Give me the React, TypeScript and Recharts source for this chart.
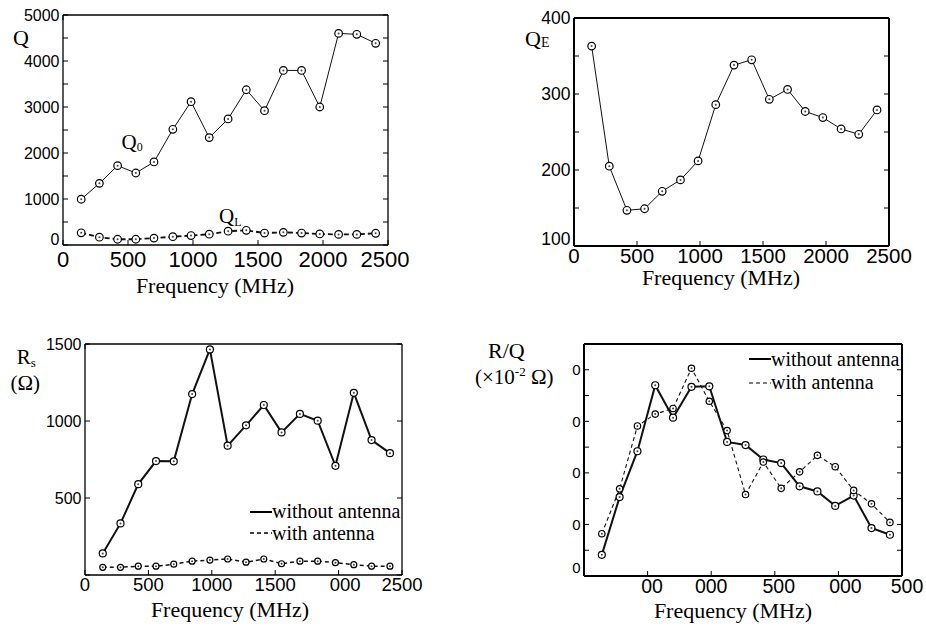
import React from 'react';
import { LineChart, Line, XAxis, YAxis, Legend } from 'recharts';

const PAGE_W = 926;
const PAGE_H = 628;
const SANS = '"Liberation Sans", Arial, Helvetica, sans-serif';
const SERIF = '"Liberation Serif", "Times New Roman", Times, serif';
const TICK_LEN = 5;

// measurement frequencies (MHz), same for all four panels
const freq = [140, 280, 420, 560, 700, 845, 985, 1125, 1270, 1410, 1550, 1695, 1835, 1975, 2120, 2260, 2405];

// top left: Q0 / QL
const q0 = [995, 1340, 1725, 1565, 1805, 2515, 3115, 2335, 2740, 3375, 2920, 3795, 3795, 3000, 4600, 4580, 4385];
const qL = [265, 170, 125, 125, 150, 180, 205, 235, 300, 320, 260, 275, 260, 240, 230, 230, 255];

// top right: QE
const qE = [363, 205, 147, 149, 172, 187, 212, 286, 338, 345, 293, 306, 277, 269, 254, 247, 279];

// bottom left: Rs (ohm)
const rsWithout = [140, 335, 590, 740, 738, 1175, 1465, 840, 972, 1104, 926, 1046, 1002, 709, 1183, 876, 791];
const rsWith = [50, 50, 57, 57, 70, 90, 97, 104, 83, 104, 73, 90, 90, 80, 67, 57, 57];

// bottom right: R/Q
const rqWithout = [4.1, 15.3, 24.2, 37.0, 30.7, 36.7, 36.8, 26.0, 25.4, 22.6, 21.9, 17.4, 16.4, 13.6, 15.6, 9.3, 8.0];
const rqWith = [8.2, 16.9, 29.1, 31.4, 32.5, 40.3, 33.9, 28.2, 15.8, 22.1, 17.0, 20.2, 23.4, 21.2, 16.6, 14.0, 10.4];

// ticks + the tick text as it is printed (some labels are clipped in the figure)
const fTicks = [0, 500, 1000, 1500, 2000, 2500];
const fLabels = ['0', '500', '1000', '1500', '2000', '2500'];
const fLabelsRs = ['0', '500', '1000', '1500', '000', '2500'];
const fLabelsRq = ['', '00', '000', '500', '000', '500'];
const qTicks = [0, 500, 1000, 1500, 2000, 2500, 3000, 3500, 4000, 4500, 5000];
const qLabels = ['0', '', '1000', '', '2000', '', '3000', '', '4000', '', '5000'];
const qeTicks = [100, 150, 200, 250, 300, 350, 400];
const qeLabels = ['100', '', '200', '', '300', '', '400'];
const rsTicks = [0, 500, 1000, 1500];
const rsLabels = ['', '500', '1000', '1500'];
const rqTicks = [0, 5, 10, 15, 20, 25, 30, 35, 40, 45];
const rqLabels = ['0', '', '0', '', '0', '', '0', '', '0', ''];

const legendOrder = ['without antenna', 'with antenna'];

type Series = { key: string; name: string; values: number[]; width: number; dash?: string; r: number };

const ring = (r: number) => (p: any) => {
  if (p.cx == null || p.cy == null) return <g key={p.index} />;
  return (
    <g key={p.index}>
      <circle cx={p.cx} cy={p.cy} r={r} fill="#fff" stroke="#000" strokeWidth={1.2} />
      <circle cx={p.cx} cy={p.cy} r={1} fill="#444" />
    </g>
  );
};

const bottomTick = (labels: string[], font: number, base: number, shift: number[]) => (p: any) => {
  const i = fTicks.indexOf(p.payload.value);
  return (
    <g>
      <line x1={p.x} x2={p.x} y1={p.y} y2={p.y - TICK_LEN} stroke="#000" />
      {labels[i] ? (
        <text x={p.x + (shift[i] ?? 0)} y={p.y + base} textAnchor="middle" fontFamily={SANS} fontSize={font} fill="#000">
          {labels[i]}
        </text>
      ) : null}
    </g>
  );
};

const topTick = (p: any) => <line x1={p.x} x2={p.x} y1={p.y} y2={p.y + TICK_LEN} stroke="#000" />;
const rightTick = (p: any) => <line x1={p.x} x2={p.x - TICK_LEN} y1={p.y} y2={p.y} stroke="#000" />;

const leftTick = (ticks: number[], labels: string[], font: number, bottomDy: number) => (p: any) => {
  const i = ticks.indexOf(p.payload.value);
  const dy = i === 0 ? bottomDy : 0;
  return (
    <g>
      <line x1={p.x} x2={p.x + TICK_LEN} y1={p.y} y2={p.y} stroke="#000" />
      {labels[i] ? (
        <text x={p.x - 3.5} y={p.y + font * 0.36 + dy} textAnchor="end" fontFamily={SANS} fontSize={font} fill="#000">
          {labels[i]}
        </text>
      ) : null}
    </g>
  );
};

const legendContent = (rowH: number) => (p: any) => {
  const items = [...(p.payload ?? [])].sort(
    (a: any, b: any) => legendOrder.indexOf(a.value) - legendOrder.indexOf(b.value),
  );
  return (
    <div style={{ fontFamily: SERIF, fontSize: 20, color: '#000', whiteSpace: 'nowrap' }}>
      {items.map((e: any) => (
        <div key={e.value} style={{ display: 'flex', alignItems: 'center', height: rowH }}>
          <svg width={22} height={6} style={{ display: 'block' }}>
            <line x1={0} x2={22} y1={3} y2={3} stroke="#000" strokeWidth={e.payload?.strokeWidth ?? 1.5}
              strokeDasharray={e.payload?.strokeDasharray} />
          </svg>
          <span>{e.value}</span>
        </div>
      ))}
    </div>
  );
};

// serif text helper for titles and annotations
const T = (props: any) => <text fontFamily={SERIF} fill="#000" {...props} />;

type PanelProps = {
  box: [number, number, number, number]; // left, right, top, bottom (page px)
  yDomain: [number, number];
  yTicks: number[];
  yLabels: string[];
  yFont: number;
  yBottomDy: number;
  xLabels: string[];
  xShift: number[];
  xFont: number;
  xBase: number;
  frame: number;
  series: Series[];
  notes: React.ReactNode;
  legend?: { left: number; top: number; row: number };
};

function Panel(props: PanelProps) {
  const { box, yDomain, yTicks, yLabels, yFont, yBottomDy, xLabels, xShift, xFont, xBase, frame, series, notes, legend } = props;
  const [x0, x1, y0, y1] = box;
  const rows = freq.map((f, i) => {
    const row: Record<string, number> = { f };
    series.forEach(s => { row[s.key] = s.values[i]; });
    return row;
  });
  const axisLine = { stroke: '#000', strokeWidth: frame };
  return (
    <div style={{ position: 'absolute', left: 0, top: 0 }}>
      <LineChart width={PAGE_W} height={PAGE_H} data={rows}
        margin={{ left: 0, top: y0 - 1, right: PAGE_W - x1 - 1, bottom: PAGE_H - y1 - 1 }}>
        <XAxis dataKey="f" type="number" domain={[0, 2500]} ticks={fTicks} interval={0} allowDataOverflow
          height={1} tickSize={0} tickMargin={0} axisLine={axisLine} tickLine={false}
          tick={bottomTick(xLabels, xFont, xBase, xShift)} label={{ content: () => notes }} />
        <XAxis xAxisId="t" orientation="top" type="number" domain={[0, 2500]} ticks={fTicks} interval={0}
          allowDataOverflow height={1} tickSize={0} tickMargin={0} axisLine={axisLine} tickLine={false} tick={topTick} />
        <YAxis type="number" domain={yDomain} ticks={yTicks} interval={0} allowDataOverflow width={x0}
          tickSize={0} tickMargin={0} axisLine={axisLine} tickLine={false}
          tick={leftTick(yTicks, yLabels, yFont, yBottomDy)} />
        <YAxis yAxisId="r" orientation="right" type="number" domain={yDomain} ticks={yTicks} interval={0}
          allowDataOverflow width={1} tickSize={0} tickMargin={0} axisLine={axisLine} tickLine={false} tick={rightTick} />
        {series.map(s => (
          <Line key={s.key} type="linear" dataKey={s.key} name={s.name} stroke="#111" strokeWidth={s.width}
            strokeDasharray={s.dash} dot={ring(s.r)} activeDot={false} isAnimationActive={false} legendType="line" />
        ))}
        {legend ? (
          <Legend layout="vertical" verticalAlign="middle" align="center"
            wrapperStyle={{ left: legend.left, top: legend.top, width: 180 }} content={legendContent(legend.row)} />
        ) : null}
      </LineChart>
    </div>
  );
}

export default function App() {
  return (
    <div style={{ position: 'absolute', left: 0, top: 0, width: PAGE_W, height: PAGE_H, background: '#fff', overflow: 'hidden' }}>
      {/* Q0 and QL */}
      <Panel
        box={[63, 388, 15, 245]}
        yDomain={[0, 5000]} yTicks={qTicks} yLabels={qLabels} yFont={16} yBottomDy={-6}
        xLabels={fLabels} xShift={[0, 0, 0, 0, 0, -3]} xFont={22} xBase={21.5}
        frame={1.3}
        series={[
          { key: 'q0', name: 'Q0', values: q0, width: 1, r: 3.8 },
          { key: 'qL', name: 'QL', values: qL, width: 1.8, dash: '5 3', r: 3.8 },
        ]}
        notes={
          <g>
            <T x={13} y={44.5} fontSize={22}>Q</T>
            <T x={121.5} y={149} fontSize={21}>Q<tspan fontSize={12} dy={2}>0</tspan></T>
            <T x={219} y={223} fontSize={21}>Q<tspan fontSize={12} dy={3}>L</tspan></T>
            <T x={215} y={293} fontSize={22} textAnchor="middle">Frequency (MHz)</T>
          </g>
        }
      />
      {/* QE */}
      <Panel
        box={[574, 889, 18, 246]}
        yDomain={[100, 400]} yTicks={qeTicks} yLabels={qeLabels} yFont={17.5} yBottomDy={-7}
        xLabels={fLabels} xShift={[0, 0, 0, 0, 0, 0]} xFont={20.5} xBase={17}
        frame={2}
        series={[{ key: 'qE', name: 'QE', values: qE, width: 1, r: 3.8 }]}
        notes={
          <g>
            <T x={525} y={46} fontSize={22}>Q<tspan fontSize={14} dy={1}>E</tspan></T>
            <T x={721} y={285} fontSize={22} textAnchor="middle">Frequency (MHz)</T>
          </g>
        }
      />
      {/* Rs */}
      <Panel
        box={[85, 402, 344, 575]}
        yDomain={[0, 1500]} yTicks={rsTicks} yLabels={rsLabels} yFont={16} yBottomDy={0}
        xLabels={fLabelsRs} xShift={[0, 0, 0, 0, 6.5, 0]} xFont={18.5} xBase={16}
        frame={1.3}
        series={[
          { key: 'without', name: 'without antenna', values: rsWithout, width: 2, r: 3.5 },
          { key: 'with', name: 'with antenna', values: rsWith, width: 1.5, dash: '4 3', r: 3 },
        ]}
        legend={{ left: 250, top: 501, row: 21.6 }}
        notes={
          <g>
            <T x={16.7} y={364} fontSize={21}>R<tspan fontSize={13} dy={3}>s</tspan></T>
            <T x={10.5} y={389.5} fontSize={21}>(Ω)</T>
            <T x={230} y={617} fontSize={22} textAnchor="middle">Frequency (MHz)</T>
          </g>
        }
      />
      {/* R/Q */}
      <Panel
        box={[584, 902, 344, 576]}
        yDomain={[0, 45]} yTicks={rqTicks} yLabels={rqLabels} yFont={15} yBottomDy={-8.5}
        xLabels={fLabelsRq} xShift={[0, 4.5, 0, 4, 7, 5]} xFont={19.5} xBase={17}
        frame={2}
        series={[
          { key: 'without', name: 'without antenna', values: rqWithout, width: 2, r: 3.5 },
          { key: 'with', name: 'with antenna', values: rqWith, width: 1.1, dash: '4 3', r: 3.2 },
        ]}
        legend={{ left: 749, top: 347.6, row: 23.4 }}
        notes={
          <g>
            <T x={488} y={357.5} fontSize={22}>R/Q</T>
            <T x={475} y={383.5} fontSize={21}>(×10<tspan fontSize={13} dy={-8}>-2</tspan><tspan dy={8}> Ω)</tspan></T>
            <T x={733} y={617.5} fontSize={22} textAnchor="middle">Frequency (MHz)</T>
          </g>
        }
      />
    </div>
  );
}
